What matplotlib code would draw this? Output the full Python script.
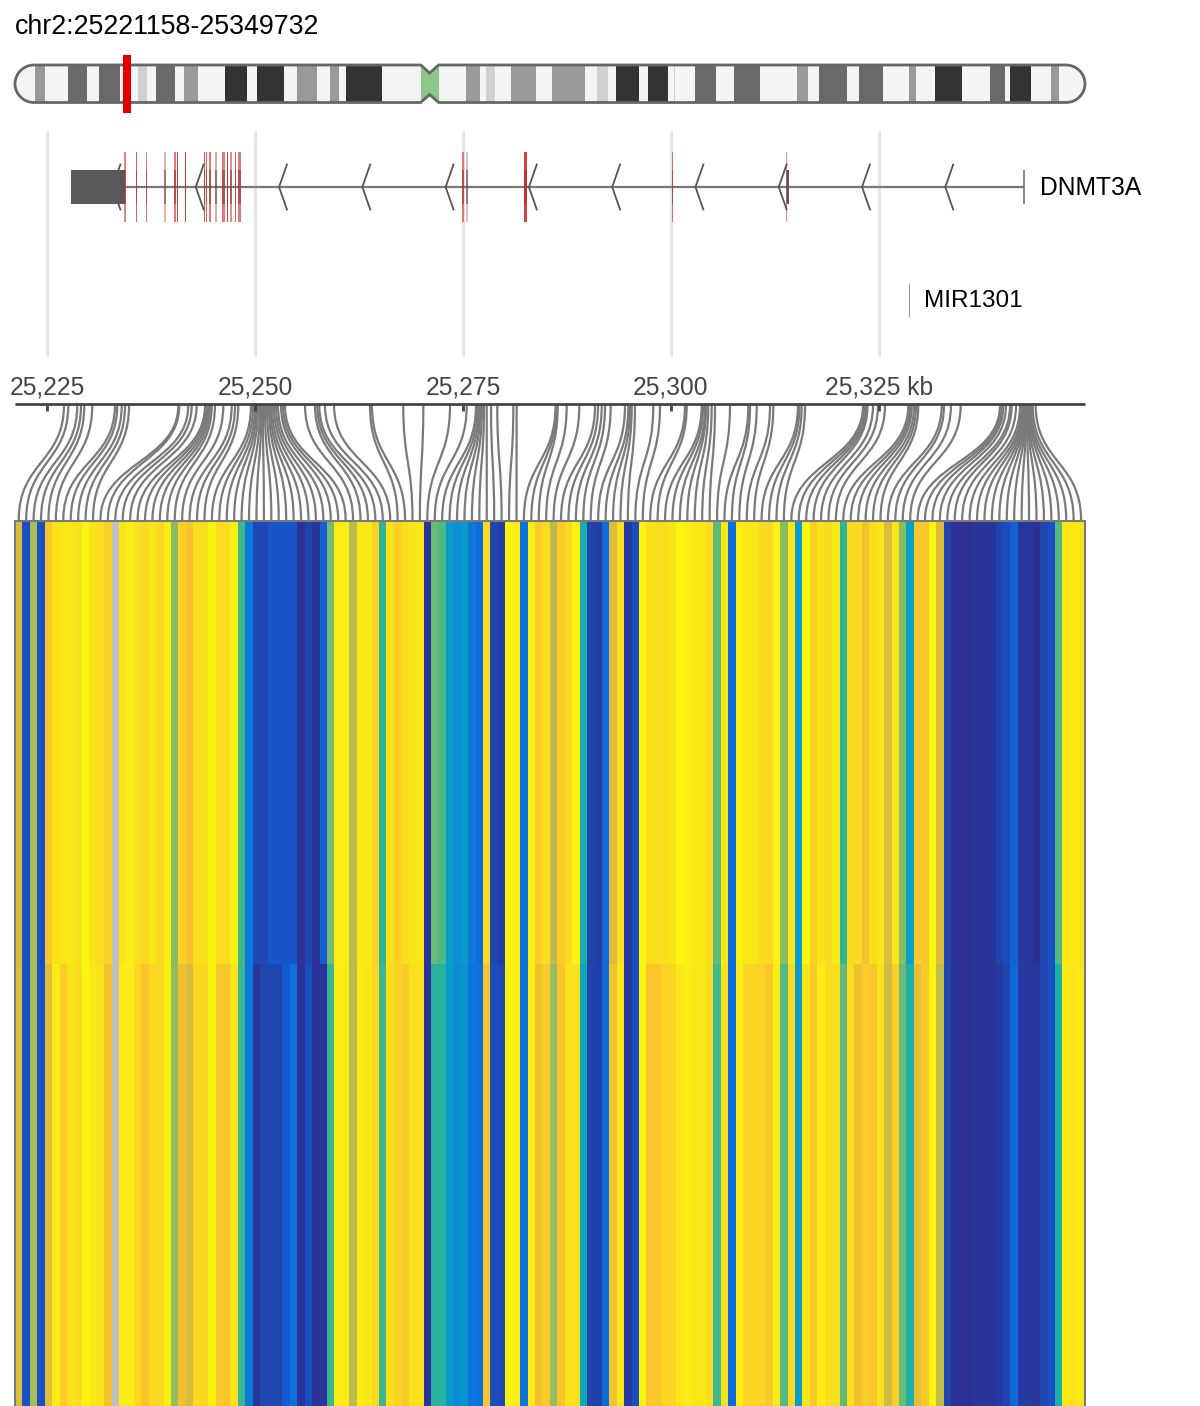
import numpy as np
import matplotlib
matplotlib.use('Agg')
import matplotlib.pyplot as plt
from matplotlib.colors import LinearSegmentedColormap
from matplotlib.patches import PathPatch, Rectangle
from matplotlib.path import Path

plt.rcParams['font.family'] = ['Liberation Sans', 'DejaVu Sans']

REGION_START = 25221.158
REGION_END = 25349.732
CHR_LENGTH = 242.19

tick_kb = [25225, 25250, 25275, 25300, 25325]
tick_labels = ['25,225', '25,250', '25,275', '25,300', '25,325 kb']

# ideogram bands in Mb
band_start = [4.53, 11.97, 18.99, 27.73, 31.91, 38.32, 47.53, 54.80, 63.94, 71.30, 74.85,
              102.08, 106.61, 112.20, 121.53, 131.64, 136.08, 143.34, 149.16, 153.92, 162.83,
              177.05, 181.98, 190.99, 202.33, 208.15, 220.62, 225.12, 234.47]
band_end = [6.88, 16.41, 23.77, 29.83, 36.31, 41.40, 52.54, 60.86, 68.38, 73.25, 83.09,
            105.25, 108.65, 118.02, 129.06, 134.25, 141.35, 147.85, 149.50, 158.76, 168.72,
            179.47, 188.30, 196.44, 203.98, 214.37, 224.08, 229.88, 236.22]
band_gray = ['#999999', '#6a6a6a', '#6a6a6a', '#d0d0d0', '#6a6a6a', '#999999', '#333333', '#333333',
             '#999999', '#999999', '#333333', '#999999', '#d0d0d0', '#999999', '#999999', '#d0d0d0',
             '#333333', '#333333', '#d0d0d0', '#6a6a6a', '#6a6a6a', '#999999', '#6a6a6a', '#6a6a6a',
             '#999999', '#333333', '#6a6a6a', '#333333', '#999999']
centromere = [91.83, 95.88]

# DNMT3A exons
exon_kb = [25234.38, 25235.78, 25236.94, 25239.18, 25240.38, 25240.66, 25241.62, 25243.91,
           25244.19, 25244.59, 25245.28, 25246.19, 25246.67, 25247.08, 25247.68, 25248.16,
           25275.02, 25275.49, 25282.54, 25300.17, 25313.88]
exon_len = [0.26, 0.18, 0.14, 0.26, 0.26, 0.14, 0.18, 0.18, 0.14, 0.26, 0.26, 0.32, 0.18,
            0.26, 0.18, 0.32, 0.26, 0.14, 0.30, 0.14, 0.12]
exon_alpha = [0.55, 0.7, 0.6, 0.35, 0.6, 0.8, 0.85, 0.75, 0.7, 0.6, 0.4, 0.6, 0.85, 0.5, 0.7,
              0.6, 0.55, 0.3, 0.85, 0.6, 0.5]
utr_kb = [25227.88, 25234.38]
gene_end_kb = 25342.43
mir_kb = 25328.6

# SNP positions (kb), one per heatmap column
snp_kb = [25227.04, 25227.56, 25228.64, 25229.09, 25229.48, 25230.44,
          25233.17, 25233.45, 25233.98, 25234.38, 25234.86,
          25240.78, 25240.90, 25241.98, 25242.39, 25242.99, 25243.99, 25244.19, 25244.39,
          25244.59, 25244.80, 25245.19, 25246.19, 25247.20, 25247.60, 25247.99,
          25249.52, 25249.76, 25250.00, 25250.18, 25250.36, 25250.60, 25250.78, 25250.96,
          25251.20, 25251.44, 25251.68, 25251.86, 25252.04, 25252.28, 25252.52, 25252.76,
          25253.13, 25253.37, 25253.61,
          25256.01, 25257.21, 25257.49, 25257.73, 25258.41, 25259.50,
          25263.82, 25264.06, 25267.82, 25270.23, 25273.44, 25275.45,
          25276.56, 25276.74, 25276.92, 25277.10, 25277.28, 25277.52, 25277.85, 25278.37,
          25279.12, 25281.05, 25281.45, 25286.12, 25286.24, 25286.38, 25287.46, 25288.98,
          25290.87, 25291.23, 25291.67, 25292.07, 25292.75,
          25294.47, 25294.87, 25295.07, 25295.28, 25295.67, 25297.87, 25298.68,
          25301.68, 25301.89, 25303.69, 25303.85, 25304.09, 25304.21, 25304.48, 25304.89,
          25305.29, 25307.09, 25309.29, 25309.50, 25310.30, 25311.90, 25312.30,
          25315.26, 25315.44, 25315.71, 25316.11,
          25323.08, 25323.26, 25323.44, 25323.62, 25324.28, 25324.88, 25325.72,
          25328.52, 25328.73, 25328.93, 25329.21, 25329.45, 25329.72,
          25332.54, 25332.81, 25333.65, 25334.82,
          25339.54, 25339.75, 25339.94, 25340.26, 25340.75, 25340.95, 25341.47, 25341.95,
          25342.15, 25342.27, 25342.39, 25342.46, 25342.55, 25342.63, 25342.70, 25342.79,
          25342.87, 25342.94, 25343.06, 25343.15, 25343.27, 25343.47, 25343.83]

nan = float('nan')
upper_row = [0.72, 0.15, 0.66, 0.15, 0.85, 0.93, 0.95, 0.96, 0.93, 1.0, 0.94, 0.92, 0.88, nan,
             0.94, 0.97, 0.93, 0.90, 0.95, 0.90, 0.98, 0.60, 0.87, 0.82, 0.92, 0.92, 1.0, 0.91,
             0.92, 0.97, 0.53, 0.27, 0.12, 0.11, 0.17, 0.17, 0.16, 0.16, 0.02, 0.10, 0.03, 0.20,
             0.58, 0.97, 0.98, 0.68, 0.96, 0.96, 0.88, 0.50, 0.93, 0.87, 0.92, 0.95, 0.95, 0.02,
             0.57, 0.54, 0.38, 0.33, 0.37, 0.27, 0.24, 0.90, 0.10, 0.06, 1.0, 0.97, 0.26, 0.97,
             0.86, 0.92, 0.68, 0.86, 0.91, 0.99, 0.46, 0.09, 0.07, 0.24, 0.73, 0.93, 0.05, 0.14,
             1.0, 0.93, 0.92, 0.92, 0.94, 1.0, 0.98, 0.96, 0.96, 0.92, 0.56, 0.96, 0.24, 0.98,
             0.95, 0.96, 0.91, 0.90, 0.99, 0.60, 0.96, 0.38, 1.0, 0.87, 0.94, 0.91, 0.96, 0.50,
             0.91, 0.91, 0.80, 0.92, 0.95, 0.72, 0.95, 0.60, 0.40, 0.86, 0.83, 1.0, 0.73, 0.09,
             0.01, 0.01, 0.0, 0.03, 0.03, 0.03, 0.09, 0.13, 0.20, 0.05, 0.05, 0.0, 0.10, 0.15,
             0.55, 0.96, 0.96, 0.95]
lower_row = [0.73, 0.15, 0.66, 0.15, 0.74, 0.97, 0.87, 0.94, 0.92, 1.0, 0.96, 0.94, 0.79, nan,
             0.97, 0.97, 0.90, 0.84, 0.90, 0.90, 0.98, 0.62, 0.78, 0.72, 0.90, 0.89, 1.0, 0.84,
             0.84, 0.93, 0.52, 0.27, 0.03, 0.10, 0.10, 0.10, 0.19, 0.25, 0.02, 0.14, 0.02, 0.02,
             0.52, 0.97, 0.97, 0.68, 0.97, 0.96, 0.90, 0.52, 0.92, 0.89, 0.86, 0.93, 0.93, 0.02,
             0.49, 0.49, 0.38, 0.32, 0.35, 0.26, 0.25, 0.83, 0.13, 0.11, 0.99, 0.97, 0.26, 0.97,
             0.78, 0.86, 0.62, 0.83, 0.94, 0.93, 0.43, 0.09, 0.08, 0.24, 0.79, 0.95, 0.05, 0.14,
             0.99, 0.84, 0.84, 0.89, 0.89, 0.95, 0.97, 0.95, 0.95, 0.92, 0.53, 0.93, 0.24, 0.97,
             0.89, 0.89, 0.89, 0.85, 0.97, 0.55, 0.90, 0.38, 0.95, 0.86, 0.97, 0.92, 0.92, 0.56,
             0.92, 0.78, 0.86, 0.84, 0.93, 0.71, 0.87, 0.57, 0.47, 0.75, 0.85, 0.99, 0.69, 0.10,
             0.01, 0.01, 0.0, 0.03, 0.03, 0.03, 0.05, 0.10, 0.23, 0.05, 0.05, 0.03, 0.10, 0.15,
             0.47, 0.96, 0.94, 0.96]

heat_stops = [(0.00, '#2e2f92'), (0.10, '#1f45b0'), (0.18, '#1558d0'), (0.25, '#0d70dc'),
              (0.33, '#0a90d0'), (0.40, '#08a0c8'), (0.47, '#1cb0a8'), (0.53, '#40b88e'),
              (0.60, '#8abd62'), (0.66, '#abba58'), (0.72, '#d8bc40'), (0.78, '#f0c030'),
              (0.84, '#fbc52c'), (0.90, '#fbd823'), (0.95, '#f9e518'), (1.00, '#fbf40f')]


def main():
    fig = plt.figure(figsize=(12, 14.06), dpi=100)

    # kb axis shared by the gene track, the ruler and the heatmap (8.32 px per kb)
    ax = fig.add_axes([0, 0, 1, 1])
    ax.set_xlim(25225 - 47 / 8.32, 25225 + (1200 - 47) / 8.32)
    ax.set_ylim(1406, 0)
    ax.axis('off')

    fig.text(15 / 1200, 1 - 27 / 1406, 'chr2:25221158-25349732', fontsize=19.25, color='#000000',
             ha='left', va='center')

    # grid
    for t in tick_kb:
        ax.plot([t, t], [131, 356], color='#e6e6e6', lw=2.2, solid_capstyle='butt', zorder=1)

    # gene
    ax.plot([utr_kb[1], gene_end_kb], [187, 187], color='#777777', lw=1.6, solid_capstyle='butt', zorder=2)
    ax.plot([gene_end_kb, gene_end_kb], [170, 204], color='#666666', lw=1.1, solid_capstyle='butt', zorder=2)
    for tip in np.arange(25232.87, gene_end_kb, 10.01):
        ax.plot([tip + 0.95, tip, tip + 0.95], [164.5, 187, 209.5], color='#555555', lw=1.3,
                solid_joinstyle='miter', zorder=2)
    ax.add_patch(Rectangle((utr_kb[0], 170), utr_kb[1] - utr_kb[0], 34, fc='#5a5a5a', ec='none', zorder=3))
    ax.add_patch(Rectangle((25313.88 + 0.12, 170), 0.2, 34, fc='#5a5a5a', ec='none', zorder=3))
    for k, w, a in zip(exon_kb, exon_len, exon_alpha):
        ax.add_patch(Rectangle((k - w / 2, 170), w, 34, fc='#5a5a5a', ec='none', alpha=0.6, zorder=3))
        ax.add_patch(Rectangle((k - w / 2, 152), w, 70, fc='#c82020', ec='none', alpha=a, zorder=4))
    ax.text(25225 + (1040 - 47) / 8.32, 188, 'DNMT3A', fontsize=17.7, color='#000000', ha='left', va='center')

    ax.plot([mir_kb, mir_kb], [283, 317], color='#999999', lw=0.8, solid_capstyle='butt', zorder=2)
    ax.text(25225 + (924 - 47) / 8.32, 301, 'MIR1301', fontsize=17.5, color='#000000', ha='left', va='center')

    # ruler
    ax.plot([REGION_START, REGION_END], [403.5, 403.5], color='#444444', lw=2.0, solid_capstyle='butt', zorder=5)
    for t, lab in zip(tick_kb, tick_labels):
        ax.plot([t, t], [403, 411], color='#444444', lw=2.0, solid_capstyle='butt', zorder=5)
        ax.text(t, 388, lab, fontsize=17.7, color='#444444', ha='center', va='center')

    # heatmap
    cmap = LinearSegmentedColormap.from_list('heat', heat_stops)
    cmap.set_bad('#c0c0c0')
    rows = np.ma.masked_invalid(np.vstack([upper_row, lower_row]))
    x_edges = np.linspace(REGION_START, REGION_END, len(upper_row) + 1)
    ax.pcolormesh(x_edges, [521, 964, 1406], rows, cmap=cmap, vmin=0, vmax=1, zorder=2,
                  shading='flat', linewidth=0, antialiased=False)
    ax.add_patch(Rectangle((REGION_START, 520.5), REGION_END - REGION_START, 886, fc='none',
                           ec='#7a7a7a', lw=1.5, zorder=3, clip_on=True))

    # connectors from the SNP position down to its column
    x_mid = (x_edges[:-1] + x_edges[1:]) / 2
    for top, bottom in zip(snp_kb, x_mid):
        verts = [(top, 405), (top, 462), (bottom, 462), (bottom, 520)]
        codes = [Path.MOVETO, Path.CURVE4, Path.CURVE4, Path.CURVE4]
        ax.add_patch(PathPatch(Path(verts, codes), fc='none', ec='#7a7a7a', lw=1.6, zorder=4))

    # ideogram in Mb
    ax2 = fig.add_axes([0, 0, 1, 1])
    mb_per_px = CHR_LENGTH / 1070
    ax2.set_xlim(-15 * mb_per_px, (1200 - 15) * mb_per_px)
    ax2.set_ylim(1406, 0)
    ax2.axis('off')
    ax2.patch.set_alpha(0)

    r = 19 * mb_per_px
    top, bot, mid = 65, 102.5, 83.75
    c0, c1 = centromere
    cm = (c0 + c1) / 2
    k = 0.55
    verts = [(r, top), (c0, top), (cm, top + 8), (c1, top), (CHR_LENGTH - r, top),
             (CHR_LENGTH - r + k * r, top), (CHR_LENGTH, mid - k * 18.75), (CHR_LENGTH, mid),
             (CHR_LENGTH, mid + k * 18.75), (CHR_LENGTH - r + k * r, bot), (CHR_LENGTH - r, bot),
             (c1, bot), (cm, bot - 8), (c0, bot), (r, bot),
             (r - k * r, bot), (0, mid + k * 18.75), (0, mid),
             (0, mid - k * 18.75), (r - k * r, top), (r, top), (r, top)]
    codes = [Path.MOVETO, Path.LINETO, Path.LINETO, Path.LINETO, Path.LINETO,
             Path.CURVE4, Path.CURVE4, Path.CURVE4, Path.CURVE4, Path.CURVE4, Path.CURVE4,
             Path.LINETO, Path.LINETO, Path.LINETO, Path.LINETO,
             Path.CURVE4, Path.CURVE4, Path.CURVE4, Path.CURVE4, Path.CURVE4, Path.CURVE4,
             Path.CLOSEPOLY]
    outline = Path(verts, codes)
    body = PathPatch(outline, fc='#f4f4f4', ec='none', zorder=1)
    ax2.add_patch(body)
    for s, e, g in zip(band_start, band_end, band_gray):
        b = Rectangle((s, top), e - s, bot - top, fc=g, ec='none', zorder=2)
        ax2.add_patch(b)
        b.set_clip_path(body)
    cen = Rectangle((c0, top), c1 - c0, bot - top, fc='#8cc888', ec='none', zorder=2)
    ax2.add_patch(cen)
    cen.set_clip_path(body)
    ax2.add_patch(PathPatch(outline, fc='none', ec='#666666', lw=2.0, zorder=3))

    # current region marker
    ax.set_zorder(1)
    ax2.set_zorder(2)
    reg_mid = (REGION_START + REGION_END) / 2 / 1000
    w_mb = 8 * mb_per_px
    ax2.add_patch(Rectangle((reg_mid - w_mb / 2, 55), w_mb, 57.5, fc='#e00000', ec='none', zorder=4))

    plt.savefig('out.png', dpi=100)


if __name__ == '__main__':
    main()
